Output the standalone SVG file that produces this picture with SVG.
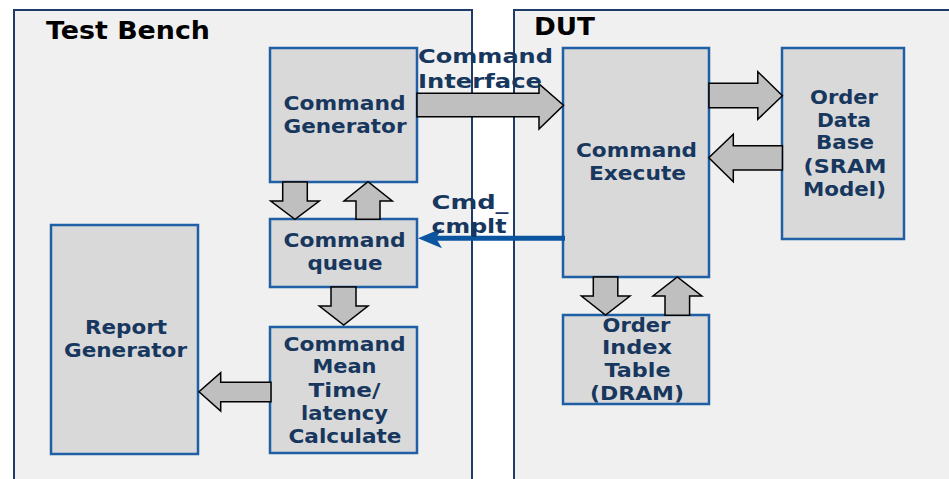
<svg xmlns="http://www.w3.org/2000/svg" width="949" height="479" viewBox="0 0 949 479">
<style>
.cont{fill:#f0f0f0;stroke:#1f3c66;stroke-width:2}
.box{fill:#d9d9d9;stroke:#1f5fa5;stroke-width:2.5}
.t{font-family:"DejaVu Sans",Verdana,sans-serif;font-weight:bold;font-size:19px;fill:#17375e;text-anchor:middle}
.title{font-family:"DejaVu Sans",Verdana,sans-serif;font-weight:bold;font-size:25px;fill:#000}
.arr{fill:#bfbfbf;stroke:#000;stroke-width:1.5;stroke-linejoin:miter}
.lbl{font-family:"DejaVu Sans",Verdana,sans-serif;font-weight:bold;font-size:20px;fill:#17375e}
</style>
<rect width="949" height="479" fill="#fff"/>
<g id="testbench">
<rect class="cont" x="14" y="10" width="458" height="480"/>
<text class="title" x="46" y="39" textLength="164" lengthAdjust="spacingAndGlyphs">Test Bench</text>
</g>
<g id="dut">
<rect class="cont" x="514" y="10" width="450" height="480"/>
<text class="title" x="534" y="35" textLength="61" lengthAdjust="spacingAndGlyphs">DUT</text>
</g>
<g id="cmdgen">
<rect class="box" x="270" y="48" width="147" height="134"/>
<text class="t" x="344.5" y="110" textLength="122" lengthAdjust="spacingAndGlyphs">Command</text>
<text class="t" x="345" y="133" textLength="123" lengthAdjust="spacingAndGlyphs">Generator</text>
</g>
<g id="cmdqueue">
<rect class="box" x="270" y="219" width="147" height="68"/>
<text class="t" x="344.5" y="247" textLength="122" lengthAdjust="spacingAndGlyphs">Command</text>
<text class="t" x="345" y="270" textLength="75" lengthAdjust="spacingAndGlyphs">queue</text>
</g>
<g id="cmdmean">
<rect class="box" x="270" y="327" width="147" height="126"/>
<text class="t" x="344.5" y="351" textLength="122" lengthAdjust="spacingAndGlyphs">Command</text>
<text class="t" x="344.5" y="373" textLength="64" lengthAdjust="spacingAndGlyphs">Mean</text>
<text class="t" x="344.5" y="397" textLength="72" lengthAdjust="spacingAndGlyphs">Time/</text>
<text class="t" x="344.5" y="420" textLength="87" lengthAdjust="spacingAndGlyphs">latency</text>
<text class="t" x="345" y="443" textLength="113" lengthAdjust="spacingAndGlyphs">Calculate</text>
</g>
<g id="report">
<rect class="box" x="51" y="225" width="147" height="229"/>
<text class="t" x="126" y="334" textLength="82" lengthAdjust="spacingAndGlyphs">Report</text>
<text class="t" x="125.5" y="357" textLength="123" lengthAdjust="spacingAndGlyphs">Generator</text>
</g>
<g id="cmdexec">
<rect class="box" x="563" y="48" width="146" height="229"/>
<text class="t" x="636.5" y="157" textLength="121" lengthAdjust="spacingAndGlyphs">Command</text>
<text class="t" x="637.5" y="180" textLength="97" lengthAdjust="spacingAndGlyphs">Execute</text>
</g>
<g id="orderdb">
<rect class="box" x="782" y="48" width="122" height="191"/>
<text class="t" x="844" y="104" textLength="68" lengthAdjust="spacingAndGlyphs">Order</text>
<text class="t" x="844" y="127" textLength="54" lengthAdjust="spacingAndGlyphs">Data</text>
<text class="t" x="845" y="149" textLength="58" lengthAdjust="spacingAndGlyphs">Base</text>
<text class="t" x="845" y="173" textLength="83" lengthAdjust="spacingAndGlyphs">(SRAM</text>
<text class="t" x="844.5" y="196" textLength="83" lengthAdjust="spacingAndGlyphs">Model)</text>
</g>
<g id="orderidx">
<rect class="box" x="563" y="315" width="146" height="89"/>
<text class="t" x="636.5" y="332" textLength="68" lengthAdjust="spacingAndGlyphs">Order</text>
<text class="t" x="637" y="354" textLength="70" lengthAdjust="spacingAndGlyphs">Index</text>
<text class="t" x="637.5" y="377" textLength="66" lengthAdjust="spacingAndGlyphs">Table</text>
<text class="t" x="637" y="400" textLength="94" lengthAdjust="spacingAndGlyphs">(DRAM)</text>
</g>
<g id="connectors">
<polygon class="arr" points="417,93.3 539,93.3 539,84 563.5,105.3 539,129 539,116.7 417,116.7"/>
<polygon class="arr" points="709,83.3 757.8,83.3 757.8,71.7 782.4,95.7 757.8,119.3 757.8,107.7 709,107.7"/>
<polygon class="arr" points="782.4,145.7 733.3,145.7 733.3,134.3 708.8,157.7 733.3,181.7 733.3,170 782.4,170"/>
<polygon class="arr" points="282.7,182 307.3,182 307.3,201 319.3,201 295,219.3 270.7,201 282.7,201"/>
<polygon class="arr" points="356,219.3 380,219.3 380,201 392.3,201 368,181.7 344,201 356,201"/>
<polygon class="arr" points="331,287 356,287 356,306 368,306 343.7,325 319.3,306 331,306"/>
<polygon class="arr" points="271,382.3 220.7,382.3 220.7,372.7 199,391.7 220.7,411 220.7,401.7 271,401.7"/>
<polygon class="arr" points="593.3,277 617.8,277 617.8,296 630,296 605.5,315 581.4,296 593.3,296"/>
<polygon class="arr" points="665,315.3 689.6,315.3 689.6,296 701.8,296 677.3,277 653,296 665,296"/>
<line x1="565" y1="238.3" x2="432" y2="238.3" stroke="#0b55a0" stroke-width="5"/>
<polygon points="418,238.3 442,228.3 436,238.3 442,248.3" fill="#0b55a0"/>
</g>
<g id="labels">
<text class="lbl" x="418" y="63" textLength="135" lengthAdjust="spacingAndGlyphs">Command</text>
<text class="lbl" x="418" y="88" textLength="124" lengthAdjust="spacingAndGlyphs">Interface</text>
<text class="lbl" x="431.5" y="209" textLength="77" lengthAdjust="spacingAndGlyphs">Cmd_</text>
<text class="lbl" x="431.5" y="233" textLength="75" lengthAdjust="spacingAndGlyphs">cmplt</text>
</g>
</svg>
